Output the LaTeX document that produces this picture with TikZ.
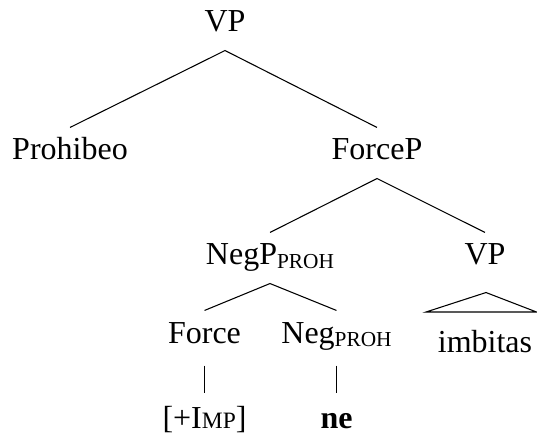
\documentclass[tikz,border=0pt]{standalone}
\usepackage{fontspec}
\setmainfont{Liberation Serif}
\usetikzlibrary{calc}
\newcommand{\subsc}[1]{\raisebox{-1.2pt}{\fontsize{8}{9}\selectfont #1}}
\newcommand{\fakesc}[1]{{\fontsize{8.8}{9}\selectfont #1}}
\begin{document}
\begin{tikzpicture}[x=0.375pt,y=-0.375pt,
  lab/.style={anchor=base,inner xsep=0pt,inner ysep=3.5pt,text height=8.5pt,text depth=3.25pt,font=\fontsize{12}{14}\selectfont},
  br/.style={line width=0.4pt}]
\useasboundingbox (0,0) rectangle (537,437);
\node[lab] (vp) at (225,32) {VP};
\node[lab] (proh) at (70,160) {Prohibeo};
\node[lab] (forcep) at (377,160) {ForceP};
\node[lab] (negp) at (270,265) {NegP\subsc{PROH}};
\node[lab] (vp1) at (485,265) {VP};
\node[lab] (force) at (204.5,343) {Force};
\node[lab] (neg) at (336.5,343) {Neg\subsc{PROH}};
\node[lab] (imp) at (204.5,428) {[+I\fakesc{MP}]};
\node[lab] (ne) at (336.5,428) {\textbf{ne}};
\node[lab] (imb) at (485,352) {imbitas};
\draw[br] (proh.north) -- (vp.south) -- (forcep.north);
\draw[br] (negp.north) -- (forcep.south) -- (vp1.north);
\draw[br] (force.north) -- (negp.south) -- (neg.north);
\draw[br,shorten <=1.5pt,shorten >=1pt] (force.south) -- (imp.north);
\draw[br,shorten <=1.5pt,shorten >=1pt] (neg.south) -- (ne.north);
\coordinate (tapex) at ($(vp1.south)+(1,9)$);
\coordinate (tl) at (426,312);
\coordinate (tr) at (536.5,312);
\draw[br] (tapex) -- (tl) -- (tr) -- cycle;
\end{tikzpicture}
\end{document}
